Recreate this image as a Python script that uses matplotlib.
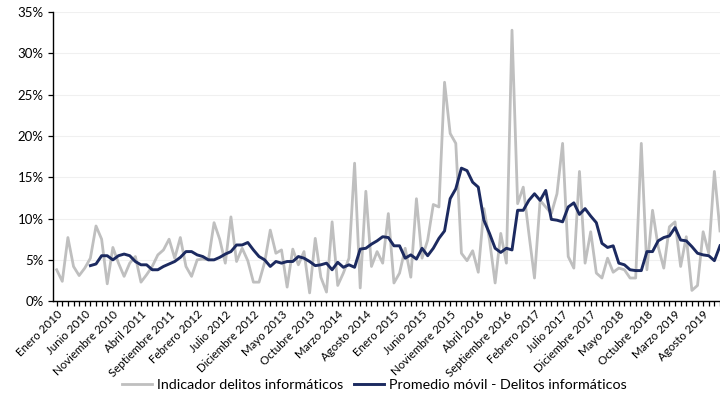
import matplotlib.pyplot as plt
from matplotlib.ticker import PercentFormatter

plt.rcParams['font.family'] = ['Lato', 'DejaVu Sans']

# monthly, Enero 2010 .. Noviembre 2019 (values in %)
meses = ['Enero', 'Febrero', 'Marzo', 'Abril', 'Mayo', 'Junio', 'Julio',
         'Agosto', 'Septiembre', 'Octubre', 'Noviembre', 'Diciembre']
first_year = 2010
n_months = 119

indicador = [
    3.8, 2.4, 7.7, 4.2, 3.1, 4.0, 5.2, 9.1, 7.5, 2.1,
    6.5, 4.6, 3.0, 4.6, 5.4, 2.3, 3.2, 4.2, 5.6, 6.2,
    7.5, 5.2, 7.7, 4.2, 3.0, 5.0, 5.1, 5.0, 9.5, 7.5,
    4.6, 10.2, 4.8, 6.4, 4.9, 2.3, 2.3, 4.7, 8.6, 5.8,
    6.2, 1.7, 6.3, 4.4, 6.0, 1.0, 7.6, 2.9, 1.1, 9.6,
    1.9, 3.4, 5.2, 16.7, 1.6, 13.3, 4.2, 6.0, 4.6, 10.6,
    2.2, 3.4, 6.4, 2.9, 12.4, 5.2, 7.4, 11.7, 11.4, 26.5,
    20.3, 19.1, 5.8, 4.9, 6.1, 3.5, 11.2, 7.4, 2.2, 8.2,
    4.6, 32.8, 11.8, 13.8, 8.2, 2.8, 12.2, 11.4, 10.6, 13.0,
    19.1, 5.4, 4.0, 15.7, 4.6, 8.4, 3.4, 2.8, 5.2, 3.5,
    4.0, 3.8, 2.8, 2.8, 19.1, 3.8, 11.0, 6.6, 4.0, 9.0,
    9.6, 4.2, 7.8, 1.3, 1.9, 8.4, 5.8, 15.7, 8.5]

# moving average starts in Julio 2010
promedio_start = 6
promedio = [
    4.3, 4.5, 5.5, 5.5, 5.0, 5.5, 5.7, 5.5, 4.8, 4.4,
    4.4, 3.8, 3.8, 4.2, 4.5, 4.8, 5.3, 6.0, 6.0, 5.6,
    5.4, 5.0, 5.0, 5.3, 5.7, 6.0, 6.8, 6.8, 7.1,
    6.2, 5.4, 5.0, 4.2, 4.8, 4.6, 4.8, 4.8, 5.4, 5.2,
    4.8, 4.3, 4.4, 4.6, 3.8, 4.7, 4.1, 4.4, 4.1, 6.3,
    6.4, 6.9, 7.3, 7.8, 7.7, 6.7, 6.7, 5.2, 5.6, 5.1,
    6.4, 5.5, 6.4, 7.6, 8.5, 12.4, 13.6, 16.1, 15.8, 14.4,
    13.8, 9.8, 8.2, 6.4, 5.9, 6.4, 6.2, 11.0, 11.0, 12.2,
    13.0, 12.2, 13.4, 9.9, 9.8, 9.6, 11.4, 11.9, 10.5, 11.2,
    10.3, 9.5, 7.0, 6.5, 6.7, 4.6, 4.4, 3.8, 3.7, 3.7,
    6.0, 6.0, 7.3, 7.7, 7.9, 8.9, 7.4, 7.3, 6.6, 5.8,
    5.6, 5.5, 4.9, 6.7]

x = list(range(n_months))
x_prom = list(range(promedio_start, promedio_start + len(promedio)))
tick_labels = [f'{meses[i % 12]} {first_year + i // 12}' if i % 5 == 0 else ''
               for i in x]

fig = plt.figure(figsize=(7.2, 4.01), dpi=100)
ax = fig.add_axes([0.074, 0.249, 0.926, 0.721])

ax.plot(x, indicador, color='#BFBFBF', lw=2.0,
        label='Indicador delitos informáticos')
ax.plot(x_prom, promedio, color='#1C2A60', lw=2.1,
        label='Promedio móvil - Delitos informáticos')

ax.set_ylim(0, 35)
ax.set_xlim(-0.6, n_months - 1)
ax.set_yticks(range(0, 36, 5))
ax.yaxis.set_major_formatter(PercentFormatter(decimals=0))
ax.grid(axis='y', color='#F0F0F0', lw=0.8)
ax.set_axisbelow(True)

ax.set_xticks(x)
ax.set_xticklabels(tick_labels, rotation=45, ha='right',
                   rotation_mode='anchor', fontsize=8.3)
ax.tick_params(axis='x', length=3.5, width=0.9, pad=2)
ax.tick_params(axis='y', length=3.5, width=0.9, labelsize=9.5)

for s in ['top', 'right']:
    ax.spines[s].set_visible(False)
for s in ['left', 'bottom']:
    ax.spines[s].set_color('black')
    ax.spines[s].set_linewidth(1.0)

fig.legend(loc='center', bbox_to_anchor=(0.52, 0.04), ncol=2,
           frameon=False, fontsize=10.3, handlelength=2.1,
           handletextpad=0.3, columnspacing=0.8)

fig.savefig('out.png', dpi=100)
